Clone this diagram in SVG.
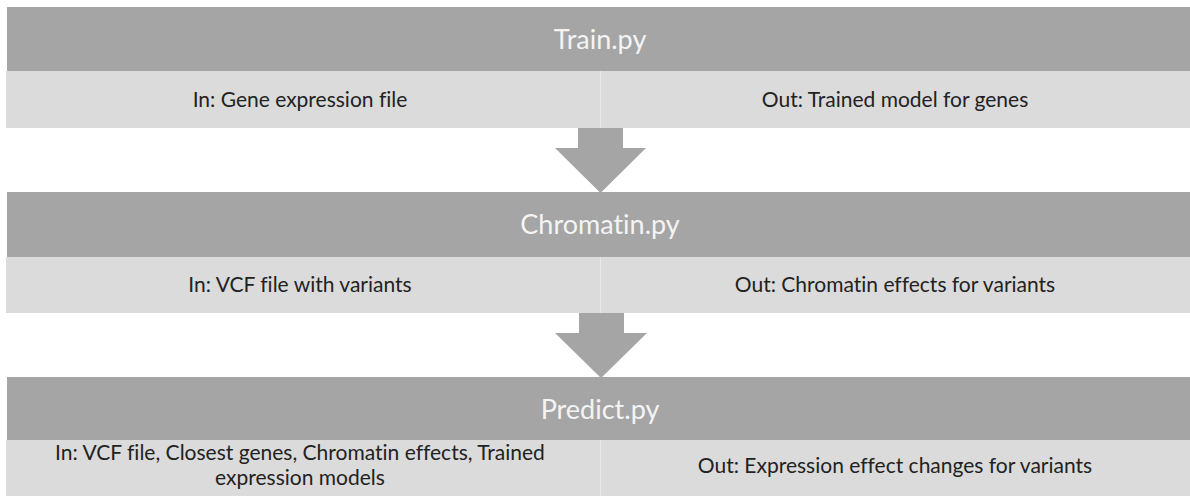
<svg xmlns="http://www.w3.org/2000/svg" width="1190" height="496" viewBox="0 0 1190 496">
<style>
.hdr{fill:#A5A5A5}
.sub{fill:#DBDBDB}
.div{stroke:#E8E8E8;stroke-width:1}
.title{font-family:Lato,"Open Sans","Liberation Sans",sans-serif;font-size:27px;fill:#F4F4F4;text-anchor:middle;font-variant-ligatures:none}
.txt{font-family:Lato,"Open Sans","Liberation Sans",sans-serif;font-size:21px;fill:#222222;text-anchor:middle;font-variant-ligatures:none}
.arrow{fill:#A5A5A5}
</style>
<rect width="1190" height="496" fill="#FFFFFF"/>
<g id="train">
<rect class="hdr" x="7" y="7" width="1183" height="64"/>
<rect class="sub" x="6" y="71" width="1184" height="57"/>
<line class="div" x1="600.5" y1="71" x2="600.5" y2="128"/>
<text class="title" x="600" y="49">Train.py</text>
<text class="txt" x="300" y="107">In: Gene expression file</text>
<text class="txt" x="895" y="107">Out: Trained model for genes</text>
</g>
<g id="chromatin">
<rect class="hdr" x="7" y="192" width="1183" height="65"/>
<rect class="sub" x="6" y="257" width="1184" height="56"/>
<line class="div" x1="600.5" y1="257" x2="600.5" y2="313"/>
<text class="title" x="600" y="234">Chromatin.py</text>
<text class="txt" x="300" y="292">In: VCF file with variants</text>
<text class="txt" x="895" y="292">Out: Chromatin effects for variants</text>
</g>
<g id="predict">
<rect class="hdr" x="7" y="377" width="1183" height="63"/>
<rect class="sub" x="6" y="440" width="1184" height="56"/>
<line class="div" x1="600.5" y1="440" x2="600.5" y2="496"/>
<text class="title" x="600" y="419">Predict.py</text>
<text class="txt" x="300" y="460">In: VCF file, Closest genes, Chromatin effects, Trained</text>
<text class="txt" x="300" y="485">expression models</text>
<text class="txt" x="895" y="473">Out: Expression effect changes for variants</text>
</g>
<g id="connectors">
<polygon class="arrow" points="578,128 623,128 623,148 646,148 600.5,193 555,148 578,148"/>
<polygon class="arrow" points="579,313 624,313 624,333 647,333 601,378 555,333 579,333"/>
</g>
</svg>
